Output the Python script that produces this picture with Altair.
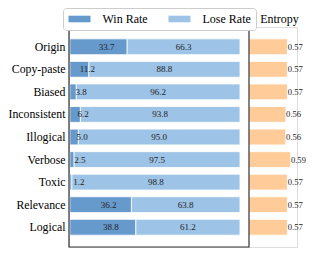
import altair as alt
import pandas as pd

categories = ["Origin", "Copy-paste", "Biased", "Inconsistent", "Illogical",
              "Verbose", "Toxic", "Relevance", "Logical"]
win_rate = [33.7, 11.2, 3.8, 6.2, 5.0, 2.5, 1.2, 36.2, 38.8]
lose_rate = [66.3, 88.8, 96.2, 93.8, 95.0, 97.5, 98.8, 63.8, 61.2]
entropy = [0.57, 0.57, 0.57, 0.56, 0.56, 0.59, 0.57, 0.57, 0.57]
series_names = ["Win Rate", "Lose Rate"]
series_colors = ["#6699CC", "#9DC3E6"]
entropy_color = "#FFCC99"

FONT = "Liberation Serif"
W_RATE, W_ENT, H = 180, 48, 220

rows = []
for c, w, l in zip(categories, win_rate, lose_rate):
    rows.append({"Category": c, "Series": "Win Rate", "start": 0.0, "end": w,
                 "mid": w / 2, "label": f"{w:.1f}"})
    rows.append({"Category": c, "Series": "Lose Rate", "start": w, "end": w + l,
                 "mid": w + l / 2, "label": f"{l:.1f}"})
rates = pd.DataFrame(rows)
ent = pd.DataFrame({"Category": categories, "Entropy": entropy,
                    "label": [f"{e:.2f}" for e in entropy]})

rate_x = alt.Scale(domain=[-0.5, 105.3], range=[0, W_RATE])
ent_x = alt.Scale(domain=[0.33, 0.63], range=[W_RATE, W_RATE + W_ENT])
y_enc = alt.Y("Category:N", sort=categories,
              scale=alt.Scale(paddingInner=0.3, paddingOuter=0.525),
              axis=alt.Axis(title=None, labelFont=FONT, labelFontSize=11.8,
                            labelColor="black", ticks=False, domain=False,
                            labelPadding=4))

bars = alt.Chart(rates).mark_bar(stroke="white", strokeWidth=0.8).encode(
    x=alt.X("start:Q", scale=rate_x, axis=None),
    x2="end:Q",
    y=y_enc,
    color=alt.Color("Series:N", sort=series_names,
                    scale=alt.Scale(domain=series_names, range=series_colors),
                    legend=alt.Legend(
                        title=None, orient="none", legendX=-6, legendY=-19,
                        direction="horizontal", fillColor="white",
                        strokeColor="#cccccc", cornerRadius=3, padding=5,
                        symbolType="M-2,-0.6L2,-0.6L2,0.6L-2,0.6Z",
                        symbolSize=121, symbolStrokeWidth=0, symbolOffset=5.5,
                        labelFont=FONT, labelFontSize=12, labelColor="black",
                        labelOffset=17, columnPadding=20)),
)

win_text = alt.Chart(rates).transform_filter(
    alt.datum.Series == "Win Rate"
).mark_text(font=FONT, fontSize=9, dx=8, color="#222222").encode(
    x=alt.X("mid:Q", scale=rate_x, axis=None),
    y=y_enc,
    text="label:N",
)

lose_text = alt.Chart(rates).transform_filter(
    alt.datum.Series == "Lose Rate"
).mark_text(font=FONT, fontSize=9, color="#222222").encode(
    x=alt.X("mid:Q", scale=rate_x, axis=None),
    y=y_enc,
    text="label:N",
)

ent_bars = alt.Chart(ent).mark_bar(color=entropy_color, stroke="white",
                                   strokeWidth=0.8).encode(
    x=alt.X("Entropy:Q", scale=ent_x,
            axis=alt.Axis(orient="top", title="Entropy", labels=False,
                          ticks=False, domain=False, grid=False,
                          titleFont=FONT, titleFontSize=12,
                          titleFontWeight="normal", titleColor="black",
                          titlePadding=2, titleX=W_RATE + 30)),
    x2=alt.datum(0.33),
    y=y_enc,
)

ent_text = alt.Chart(ent).mark_text(font=FONT, fontSize=8.6, align="left", dx=0.3,
                                    color="#222222").encode(
    x=alt.X("Entropy:Q", scale=ent_x, axis=None),
    y=y_enc,
    text="label:N",
)

frame = alt.Chart(alt.Data(values=[{"f": 1}])).mark_rect(
    filled=False, stroke="#333333", strokeWidth=1.2
).encode(
    x=alt.value(0), x2=alt.value(W_RATE), y=alt.value(0), y2=alt.value(H)
)

chart = alt.layer(bars, win_text, lose_text, ent_bars, ent_text, frame).resolve_scale(
    x="independent"
).properties(
    width=W_RATE + W_ENT, height=H,
    autosize=alt.AutoSizeParams(type="none"),
    padding={"left": 61, "top": 19, "right": 9, "bottom": 6},
).configure_view(stroke=None).configure(font=FONT)

chart.save("out.html", embed_options={"renderer": "svg", "actions": False})
